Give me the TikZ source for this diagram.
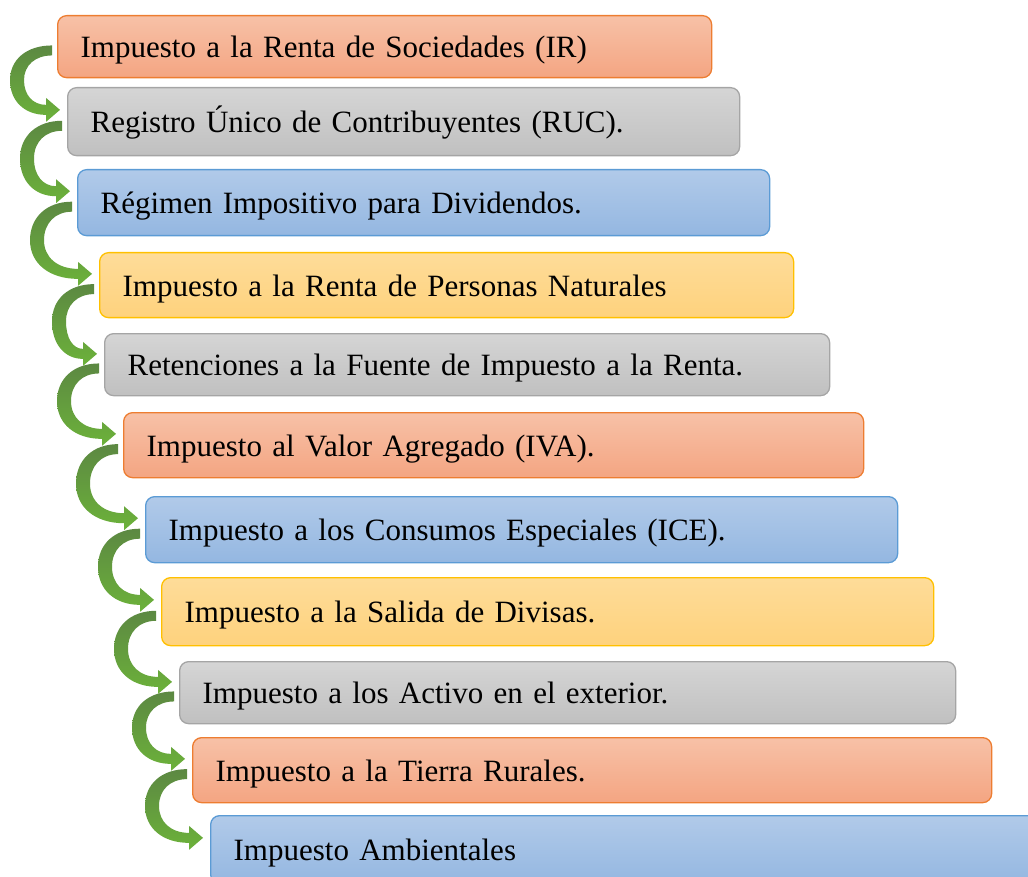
\documentclass[tikz,border=0pt]{standalone}
\usepackage{fontspec}
\setmainfont{Liberation Serif}
\usetikzlibrary{calc}
\definecolor{orT}{RGB}{247,193,167}\definecolor{orB}{RGB}{244,165,130}\definecolor{orD}{RGB}{237,125,49}
\definecolor{grT}{RGB}{213,213,213}\definecolor{grB}{RGB}{192,192,192}\definecolor{grD}{RGB}{165,165,165}
\definecolor{blT}{RGB}{177,202,233}\definecolor{blB}{RGB}{148,183,225}\definecolor{blD}{RGB}{91,155,213}
\definecolor{yeT}{RGB}{254,220,153}\definecolor{yeB}{RGB}{254,210,125}\definecolor{yeD}{RGB}{255,192,0}
\definecolor{arD}{RGB}{92,136,66}\definecolor{arL}{RGB}{108,178,58}
\tikzset{
  box/.style={rectangle, rounded corners=9pt, line width=1.3pt, anchor=north west,
    inner xsep=23pt, inner ysep=0pt, align=left, text height=27pt, text depth=5pt,
    font=\fontsize{31}{37}\selectfont},
  orbox/.style={box, draw=orD, top color=orT, bottom color=orB},
  grbox/.style={box, draw=grD, top color=grT, bottom color=grB},
  blbox/.style={box, draw=blD, top color=blT, bottom color=blB},
  yebox/.style={box, draw=yeD, top color=yeT, bottom color=yeB},
  arrowshade/.style={top color=arD, bottom color=arL}
}
\newcommand\ribbon[2]{%
\shade[arrowshade] let
  \p1=($(#1.south west)!0.44!(#1.north west)+(-5pt,0)$),
  \p2=($(#2.north west)!0.33!(#2.south west)+(-7pt,0)$),
  \p3=({\x1-35pt},{0.5*\y1+0.5*\y2})
 in (\x1,{\y1+5pt})
  .. controls ({\x1-0.6*(\x1-\x3+7pt)},{\y1+5pt}) and ({\x3-7pt},{\y3+0.6*(\y1-\y3+5pt)}) .. ({\x3-7pt},\y3)
  .. controls ({\x3-7pt},{\y3-0.6*(\y3-\y2+5pt)}) and ({\x2-14pt-0.6*(\x2-14pt-\x3+7pt)},{\y2-5pt}) .. ({\x2-14pt},{\y2-5pt})
  -- ({\x2-14pt},{\y2-12pt}) -- (\x2,\y2) -- ({\x2-14pt},{\y2+12pt}) -- ({\x2-14pt},{\y2+5pt})
  .. controls ({\x2-14pt-0.6*(\x2-14pt-\x3-7pt)},{\y2+5pt}) and ({\x3+7pt},{\y3-0.6*(\y3-\y2-5pt)}) .. ({\x3+7pt},\y3)
  .. controls ({\x3+7pt},{\y3+0.6*(\y1-\y3-5pt)}) and ({\x1-0.6*(\x1-\x3-7pt)},{\y1-5pt}) .. (\x1,{\y1-5pt})
  -- cycle;}
\begin{document}
\begin{tikzpicture}[x=1pt,y=-1pt]
\useasboundingbox (0,0) rectangle (1028,877);
\clip (0,0) rectangle (1028,877);
\node[orbox, minimum width=654pt, minimum height=62pt, text width=608pt] (b1) at (57,15) {Impuesto a la Renta de Sociedades (IR)};
\node[grbox, minimum width=672pt, minimum height=68pt, text width=626pt] (b2) at (67,87) {Registro Único de Contribuyentes (RUC).};
\node[blbox, minimum width=692pt, minimum height=66pt, text width=646pt] (b3) at (77,169) {Régimen Impositivo para Dividendos.};
\node[yebox, minimum width=694pt, minimum height=65pt, text width=648pt] (b4) at (99,252) {Impuesto a la Renta de Personas Naturales};
\node[grbox, minimum width=725pt, minimum height=62pt, text width=679pt] (b5) at (104,333) {Retenciones a la Fuente de Impuesto a la Renta.};
\node[orbox, minimum width=740pt, minimum height=65pt, text width=694pt] (b6) at (123,412) {Impuesto al Valor Agregado (IVA).};
\node[blbox, minimum width=752pt, minimum height=66pt, text width=706pt] (b7) at (145,496) {Impuesto a los Consumos Especiales (ICE).};
\node[yebox, minimum width=772pt, minimum height=68pt, text width=726pt] (b8) at (161,577) {Impuesto a la Salida de Divisas.};
\node[grbox, minimum width=776pt, minimum height=62pt, text width=730pt] (b9) at (179,661) {Impuesto a los Activo en el exterior.};
\node[orbox, minimum width=799pt, minimum height=65pt, text width=753pt] (b10) at (192,737) {Impuesto a la Tierra Rurales.};
\node[blbox, minimum width=830pt, minimum height=68pt, text width=784pt] (b11) at (210,815) {Impuesto Ambientales};
\ribbon{b1}{b2}
\ribbon{b2}{b3}
\ribbon{b3}{b4}
\ribbon{b4}{b5}
\ribbon{b5}{b6}
\ribbon{b6}{b7}
\ribbon{b7}{b8}
\ribbon{b8}{b9}
\ribbon{b9}{b10}
\ribbon{b10}{b11}
\end{tikzpicture}
\end{document}
